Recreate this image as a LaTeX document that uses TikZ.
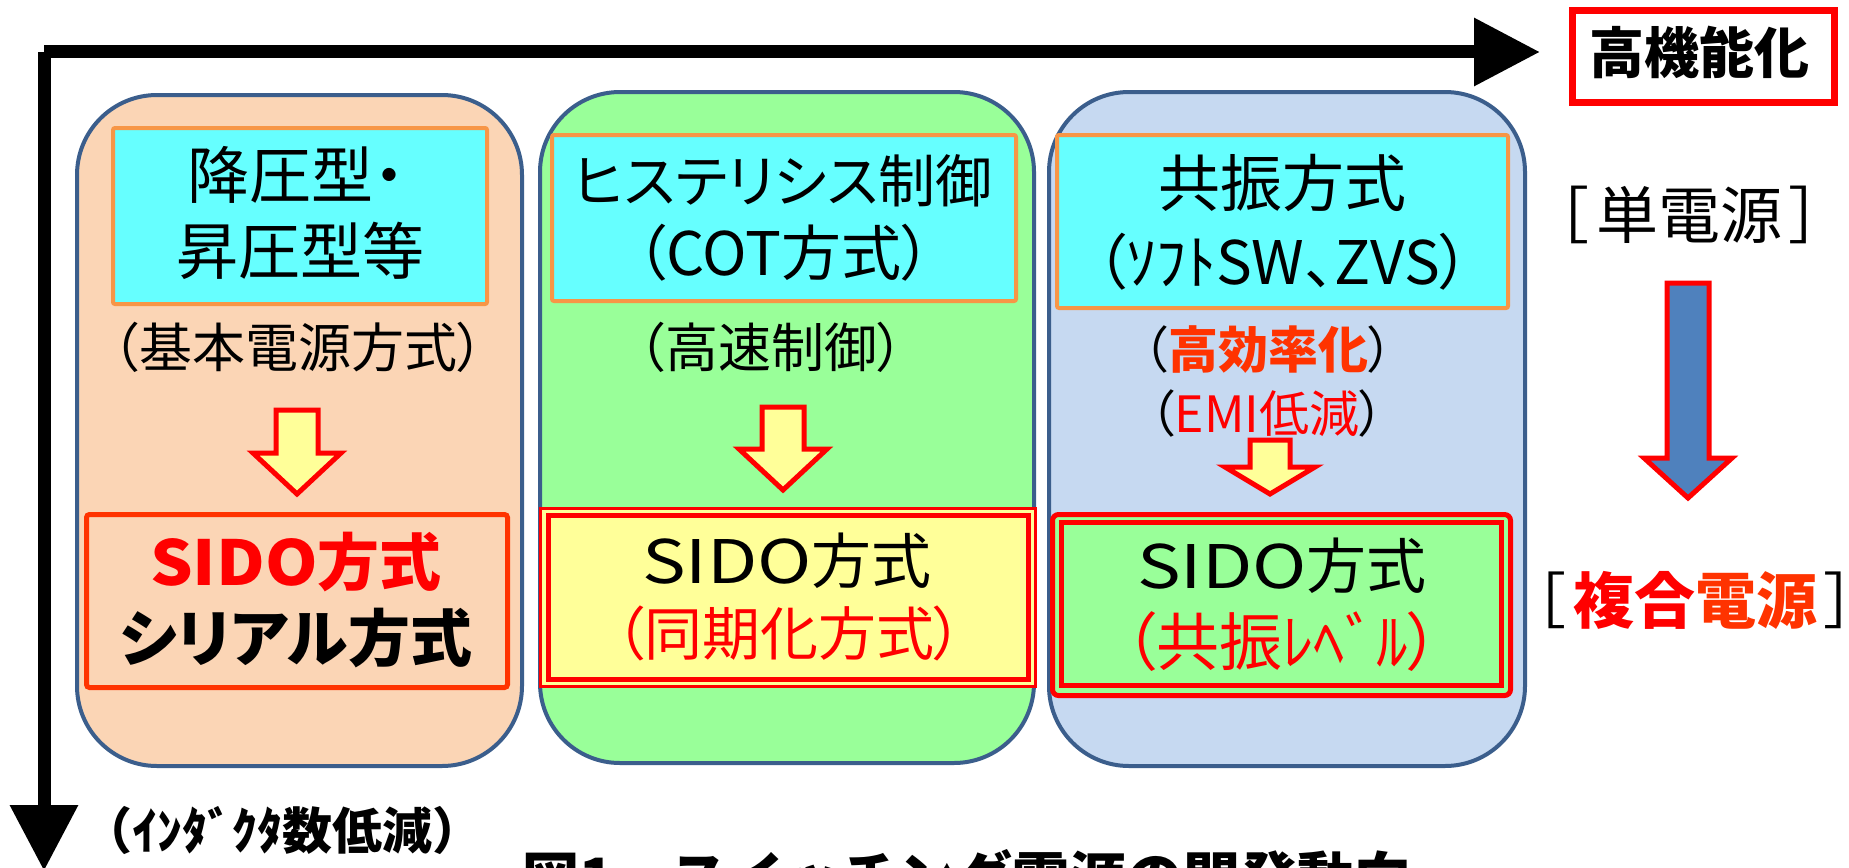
\documentclass[tikz,border=0pt]{standalone}
\usepackage{fontspec}
\usepackage{graphicx}
\setmainfont{Noto Sans CJK JP}[RawFeature=+palt]
\newfontfamily\jpn{Noto Sans CJK JP}
\usetikzlibrary{arrows.meta}
\definecolor{peach}{HTML}{FBD5B5}
\definecolor{lgreen}{HTML}{99FF99}
\definecolor{lblue}{HTML}{C6D9F1}
\definecolor{panelborder}{HTML}{3B5E8C}
\definecolor{cyanbg}{HTML}{66FFFF}
\definecolor{orangeb}{HTML}{F79646}
\definecolor{yel}{HTML}{FFFF99}
\definecolor{ored}{HTML}{FF3300}
\definecolor{barrow}{HTML}{4F81BD}
\newcommand{\fsz}[1]{\fontsize{#1}{#1}\selectfont}
\newcommand{\wide}[2]{\scalebox{#1}[1]{#2}}
\newcommand{\dnarrow}[7]{% style, cx, top, shaft half, head start, head half, tip
  \draw[#1] ({#2-#4},#3) -- ({#2+#4},#3) -- ({#2+#4},#5) -- ({#2+#6},#5) -- (#2,#7) -- ({#2-#6},#5) -- ({#2-#4},#5) -- cycle;}
\begin{document}
\begin{tikzpicture}[x=1pt,y=-1pt,
  panel/.style={draw=panelborder, line width=4, rounded corners=80},
  headbox/.style={fill=cyanbg, draw=orangeb, line width=4, rounded corners=2},
  axisline/.style={line width=13, -{Triangle[length=66pt,width=65pt]}},
  yarrow/.style={fill=yel, draw=red, line width=5},
  barr/.style={fill=barrow, draw=red, line width=5},
  txt/.style={inner sep=0, text=black}]
\useasboundingbox (0,0) rectangle (1849,867);
\clip (0,0) rectangle (1849,867);
\fill[white] (0,0) rectangle (1849,867);

% axes
\coordinate (O) at (44,52);
\coordinate (X) at (1540,52);
\coordinate (Y) at (44,871);
\draw[axisline] (O) -- (X);
\draw[axisline] (O) -- (Y);

% panels
\draw[panel, fill=peach] (77,95) rectangle (522,766);
\draw[panel, fill=lgreen] (540,92) rectangle (1034,763);
\draw[panel, fill=lblue] (1049,92) rectangle (1525,766);

% header boxes
\draw[headbox] (113,128) rectangle (487,304);
\draw[headbox] (552,135) rectangle (1016,301);
\draw[headbox] (1057,135) rectangle (1508,308);

% header texts
\node[txt, font=\fsz{62}] (h1a) at (296,175) {降圧型・};
\node[txt, font=\fsz{62}] (h1b) at (300,251) {昇圧型等};
\node[txt, font=\fsz{53}] (s1) at (298,347) {（基本電源方式）};
\node[txt, font=\fsz{57}] (h2a) at (783,181) {ヒステリシス制御};
\node[txt, font=\fsz{60}] (h2b) at (784,253) {（COT方式）};
\node[txt, font=\fsz{53}] (s2) at (771,347) {（高速制御）};
\node[txt, font=\fsz{62}] (h3a) at (1282,183) {共振方式};
\node[txt, font=\fsz{60}] (h3b) at (1283,262) {（ｿﾌﾄSW、ZVS）};
\node[txt, font=\fsz{50}] (s3a) at (1268,350) {（{\bfseries\color{ored}高効率化}）};
\node[txt, font=\fsz{50}] (s3b) at (1267,413) {（{\color{red}EMI低減}）};

% yellow arrows
\dnarrow{yarrow}{297}{410}{21}{453}{44}{494}
\dnarrow{yarrow}{783}{407}{21}{449}{44}{490}
\dnarrow{yarrow}{1270}{440}{20}{467}{45}{494}

% bottom boxes
\draw[draw=ored, line width=5, rounded corners=3] (86.5,514.5) rectangle (507.5,687.5);
\draw[draw=red, line width=3, fill=yel] (540.5,508.5) rectangle (1035.5,686.5);
\draw[draw=red, line width=5, fill=yel] (548.5,515.5) rectangle (1028.5,679.5);
\draw[draw=red, line width=5, rounded corners=6, fill=lgreen] (1052.5,514.5) rectangle (1510.5,695.5);
\draw[draw=red, line width=5] (1061.5,522.5) rectangle (1501.5,685.5);

\node[txt, font=\fsz{62}\bfseries, text=red] (b1a) at (296,562) {\wide{1.08}{SIDO}方式};
\node[txt, font=\fsz{62}\bfseries] (b1b) at (296,638) {シリアル方式};
\node[txt, font=\fsz{60}] (b2a) at (787,561) {\wide{1.22}{SIDO}方式};
\node[txt, font=\fsz{58}, text=red] (b2b) at (789,633) {（同期化方式）};
\node[txt, font=\fsz{60}] (b3a) at (1282,566) {\wide{1.22}{SIDO}方式};
\node[txt, font=\fsz{63}, text=red] (b3b) at (1282,642) {（共振ﾚﾍﾞﾙ）};

% right side
\node[draw=red, line width=7, minimum width=262, minimum height=92, inner sep=0] (kbox) at (1703.5,56.5) {};
\node[txt, font=\fsz{55}\bfseries] (kk) at (1699,52.5) {高機能化};
\node[txt, font=\fsz{62}] (tan) at (1689,215) {［\kern0.12em 単電源\kern0.12em ］};
\dnarrow{barr}{1688}{283}{21}{458}{44}{498}
\node[txt, font=\fsz{61}] (fuku) at (1695,600) {［\kern0.12em{\bfseries\color{red}複合}{\bfseries\color{ored}電源}\kern0.12em ］};

% bottom labels
\node[txt, font=\jpn\fsz{50}\bfseries] (ind) at (282,830) {（ｲﾝﾀﾞｸﾀ数低減）};
\node[txt, font=\jpn\fsz{57}\bfseries, anchor=base west] (cap) at (522,899) {図1　スイッチング電源の開発動向};
\end{tikzpicture}
\end{document}
